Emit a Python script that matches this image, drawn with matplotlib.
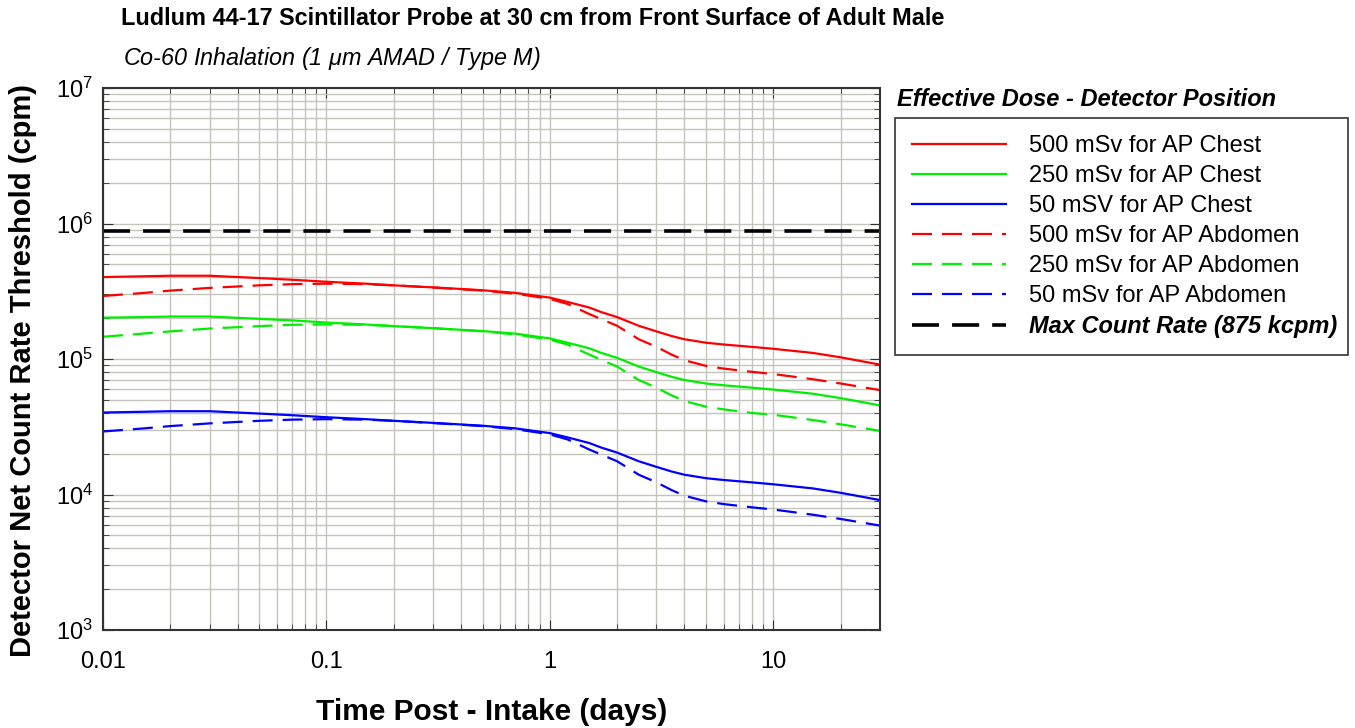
import matplotlib
matplotlib.use("Agg")
import matplotlib.pyplot as plt
from matplotlib.ticker import LogLocator, FixedLocator, FixedFormatter, NullFormatter

plt.rcParams['font.family'] = ['Liberation Sans', 'DejaVu Sans']
plt.rcParams['mathtext.default'] = 'regular'

# Time post intake (days)
dias = [0.01, 0.015, 0.02, 0.03, 0.05, 0.07, 0.1, 0.15, 0.2, 0.3, 0.5, 0.7, 1, 1.2,
        1.5, 1.7, 2, 2.5, 3, 3.5, 4, 5, 6, 8, 10, 15, 20, 30]

# Detector net count rate threshold (cpm)
chest_500 = [4.03e5, 4.08e5, 4.12e5, 4.12e5, 3.96e5, 3.85e5, 3.72e5, 3.6e5, 3.5e5, 3.38e5,
             3.22e5, 3.08e5, 2.84e5, 2.64e5, 2.4e5, 2.22e5, 2.04e5, 1.76e5, 1.6e5, 1.48e5,
             1.4e5, 1.32e5, 1.28e5, 1.23e5, 1.19e5, 1.11e5, 1.03e5, 9.1e4]
chest_250 = [2.02e5, 2.04e5, 2.06e5, 2.06e5, 1.98e5, 1.93e5, 1.86e5, 1.8e5, 1.75e5, 1.69e5,
             1.61e5, 1.54e5, 1.42e5, 1.32e5, 1.2e5, 1.11e5, 1.02e5, 8.8e4, 8.0e4, 7.4e4,
             7.0e4, 6.6e4, 6.4e4, 6.15e4, 5.95e4, 5.55e4, 5.15e4, 4.55e4]
chest_50 = [4.03e4, 4.08e4, 4.12e4, 4.12e4, 3.96e4, 3.85e4, 3.72e4, 3.6e4, 3.5e4, 3.38e4,
            3.22e4, 3.08e4, 2.84e4, 2.64e4, 2.4e4, 2.22e4, 2.04e4, 1.76e4, 1.6e4, 1.48e4,
            1.4e4, 1.32e4, 1.28e4, 1.23e4, 1.19e4, 1.11e4, 1.03e4, 9.1e3]
abdomen_500 = [2.92e5, 3.07e5, 3.2e5, 3.35e5, 3.5e5, 3.57e5, 3.6e5, 3.57e5, 3.5e5, 3.37e5,
               3.2e5, 3.04e5, 2.78e5, 2.55e5, 2.15e5, 1.97e5, 1.76e5, 1.4e5, 1.23e5, 1.08e5,
               9.8e4, 8.9e4, 8.5e4, 8.05e4, 7.75e4, 7.1e4, 6.6e4, 5.9e4]
abdomen_250 = [1.46e5, 1.54e5, 1.6e5, 1.68e5, 1.75e5, 1.79e5, 1.8e5, 1.79e5, 1.75e5, 1.69e5,
               1.6e5, 1.52e5, 1.39e5, 1.28e5, 1.08e5, 9.85e4, 8.8e4, 7.0e4, 6.15e4, 5.4e4,
               4.9e4, 4.45e4, 4.25e4, 4.0e4, 3.88e4, 3.55e4, 3.3e4, 2.95e4]
abdomen_50 = [2.92e4, 3.07e4, 3.2e4, 3.35e4, 3.5e4, 3.57e4, 3.6e4, 3.57e4, 3.5e4, 3.37e4,
              3.2e4, 3.04e4, 2.78e4, 2.55e4, 2.15e4, 1.97e4, 1.76e4, 1.4e4, 1.23e4, 1.08e4,
              9.8e3, 8.9e3, 8.5e3, 8.05e3, 7.75e3, 7.1e3, 6.6e3, 5.9e3]
max_rate = 875e3

fig = plt.figure(figsize=(13.55, 7.28), dpi=100)
ax = fig.add_axes([0.076, 0.1346, 0.5734, 0.7444])

dash = (0, (9, 4.5))
ax.plot(dias, chest_500, color='#ff0000', lw=1.6, label='500 mSv for AP Chest')
ax.plot(dias, chest_250, color='#00ee00', lw=1.6, label='250 mSv for AP Chest')
ax.plot(dias, chest_50, color='#0000ff', lw=1.6, label='50 mSV for AP Chest')
ax.plot(dias, abdomen_500, color='#ff0000', lw=1.6, ls=dash, label='500 mSv for AP Abdomen')
ax.plot(dias, abdomen_250, color='#00ee00', lw=1.6, ls=dash, label='250 mSv for AP Abdomen')
ax.plot(dias, abdomen_50, color='#0000ff', lw=1.6, ls=dash, label='50 mSv for AP Abdomen')
ax.axhline(max_rate, color='black', lw=2.6, ls=(0, (7.5, 3.6)),
           label='Max Count Rate (875 kcpm)')

ax.set_xscale('log')
ax.set_yscale('log')
ax.set_xlim(0.01, 30)
ax.set_ylim(1e3, 1e7)

ax.xaxis.set_major_locator(FixedLocator([0.01, 0.1, 1, 10]))
ax.xaxis.set_major_formatter(FixedFormatter(['0.01', '0.1', '1', '10']))
ax.xaxis.set_minor_locator(LogLocator(base=10, subs=range(2, 10), numticks=20))
ax.xaxis.set_minor_formatter(NullFormatter())
ax.yaxis.set_major_locator(LogLocator(base=10, numticks=10))
ax.yaxis.set_minor_locator(LogLocator(base=10, subs=range(2, 10), numticks=20))
ax.yaxis.set_minor_formatter(NullFormatter())

ax.grid(True, which='both', color='#c4c4bc', lw=1.0)
ax.set_axisbelow(True)
ax.tick_params(which='both', direction='in', top=True, right=True, labelsize=17, color='#333333')
ax.tick_params(axis='x', which='major', length=7, pad=15)
ax.tick_params(axis='y', which='major', length=7, pad=7)
ax.tick_params(which='minor', length=4)
for s in ax.spines.values():
    s.set_linewidth(1.5)
    s.set_color('#333333')

ax.set_xlabel('Time Post - Intake (days)', fontsize=21.5, fontweight='bold', labelpad=18)
ax.set_ylabel('Detector Net Count Rate Threshold (cpm)', fontsize=21, fontweight='bold')
ax.yaxis.set_label_coords(-0.085, 0.478)

fig.text(0.089, 0.974, 'Ludlum 44-17 Scintillator Probe at 30 cm from Front Surface of Adult Male',
         fontsize=16.9, fontweight='bold', va='center')
fig.text(0.091, 0.92, 'Co-60 Inhalation (1 $\\mu$m AMAD / Type M)',
         fontsize=16.8, fontstyle='italic', va='center')

fig.text(0.662, 0.864, 'Effective Dose - Detector Position', fontsize=17,
         fontweight='bold', fontstyle='italic', va='center')
leg = fig.legend(loc='upper left', bbox_to_anchor=(0.6605, 0.5124, 0.334, 0.3256),
                 mode='expand', borderaxespad=0, fontsize=17, handlelength=4.0,
                 handletextpad=0.95, labelspacing=0.34, borderpad=0.72,
                 fancybox=False, edgecolor='#333333', framealpha=1)
leg.get_frame().set_linewidth(1.2)
leg.get_texts()[-1].set_fontweight('bold')
leg.get_texts()[-1].set_fontstyle('italic')

fig.savefig('out.png', dpi=100)
